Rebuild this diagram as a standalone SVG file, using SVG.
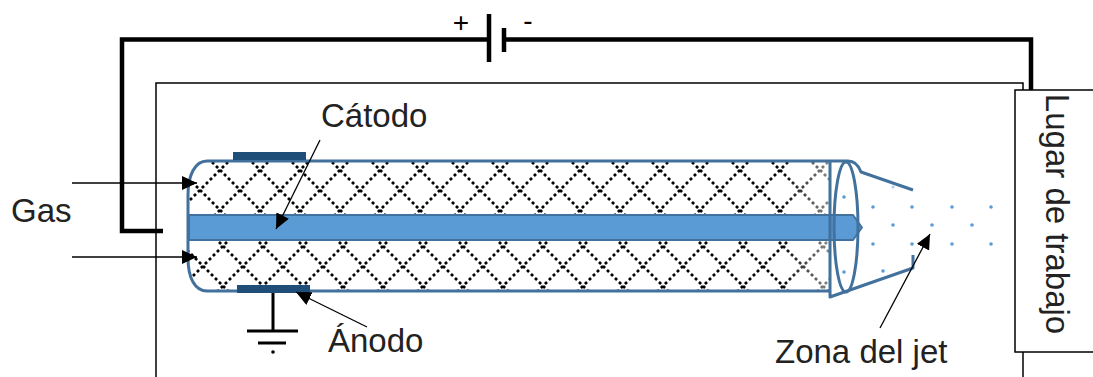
<svg xmlns="http://www.w3.org/2000/svg" width="1093" height="377" viewBox="0 0 1093 377">
  <style>
    .txt { font-family: "Liberation Sans", Arial, sans-serif; font-size: 33px; fill: #222; }
    .sign { font-family: "Liberation Sans", Arial, sans-serif; font-size: 28px; fill: #000; text-anchor: middle; }
    .wire { fill: none; stroke: #000; stroke-width: 4.5; stroke-linejoin: miter; stroke-linecap: butt; }
    .thin { fill: none; stroke: #000; stroke-width: 1.5; }
    .ptr { fill: none; stroke: #000; stroke-width: 1.3; marker-end: url(#head); }
    .shell { fill: none; stroke: #41719C; stroke-width: 3; stroke-linejoin: round; }
    .elec { fill: #1F4E79; }
    .jet { fill: #5B9BD5; }
    .gnd { fill: none; stroke: #000; stroke-width: 3; }
  </style>
  <defs>
    <marker id="head" markerUnits="userSpaceOnUse" markerWidth="15" markerHeight="14" refX="15" refY="7" orient="auto">
      <path d="M0 0 L15 7 L0 14 Z" fill="#000"/>
    </marker>
    <!-- diamond mesh, dotted diagonals through every 40px lattice point -->
    <g id="meshLines" fill="none" stroke="#000" stroke-width="2.7" stroke-dasharray="2.9 2.757">
      <path d="M-40 -40 L80 80 M0 -40 L80 40 M-40 0 L40 80 M80 -40 L-40 80 M40 -40 L-40 40 M80 0 L0 80"/>
    </g>
    <pattern id="meshUpper" width="40" height="40" patternUnits="userSpaceOnUse" patternTransform="translate(200,190)">
      <use href="#meshLines"/>
    </pattern>
    <pattern id="meshLower" width="40" height="40" patternUnits="userSpaceOnUse" patternTransform="translate(203,266)">
      <use href="#meshLines"/>
    </pattern>
    <clipPath id="tubeInside">
      <path d="M207 161 C195 161 188 175 188 195 L188 258 C188 278 195 290 207 290 L830 290 L830 161 Z"/>
    </clipPath>
    <linearGradient id="meshFade" x1="780" y1="0" x2="830" y2="0" gradientUnits="userSpaceOnUse">
      <stop offset="0" stop-color="#fff" stop-opacity="0"/>
      <stop offset="1" stop-color="#fff" stop-opacity="0.55"/>
    </linearGradient>
  </defs>

  <!-- enclosure outline -->
  <g id="enclosure">
    <path class="thin" d="M156 377 V83 H1023 V90"/>
    <path class="thin" d="M1023 352 V377"/>
  </g>

  <!-- power supply -->
  <g id="battery">
    <line x1="489" y1="14" x2="489" y2="62" stroke="#000" stroke-width="4.5"/>
    <line x1="504" y1="28" x2="504" y2="52" stroke="#000" stroke-width="4.5"/>
    <text class="sign" x="461" y="32">+</text>
    <text class="sign" x="528" y="30">-</text>
  </g>

  <!-- plasma torch -->
  <g id="torch">
    <g clip-path="url(#tubeInside)">
      <rect x="188" y="161" width="642" height="54" fill="url(#meshUpper)"/>
      <rect x="188" y="240" width="642" height="50" fill="url(#meshLower)"/>
      <rect x="780" y="161" width="50" height="130" fill="url(#meshFade)"/>
    </g>
    <!-- central electrode -->
    <path d="M189 215 H853 L862 227.5 L853 240 H189 Z" fill="#5B9BD5" stroke="#41719C" stroke-width="1.8"/>
    <!-- shell -->
    <path class="shell" d="M830 161 H207 C195 161 188 175 188 195 L188 258 C188 278 195 291 207 291 H830"/>
    <path class="shell" d="M830 161 V297 L913 268 V255"/>
    <path class="shell" d="M830 161 H848 Q857 161 861 172 L913 190"/>
    <ellipse class="shell" cx="846" cy="227" rx="12" ry="65"/>
    <!-- ring electrodes -->
    <rect class="elec" x="233" y="152" width="73" height="8"/>
    <rect class="elec" x="237" y="285" width="73" height="8"/>
  </g>

  <!-- plasma jet -->
  <g id="jet">
    <circle class="jet" cx="844" cy="197" r="1.8"/>
    <circle class="jet" cx="893" cy="187" r="1.6" opacity="0.5"/>
    <circle class="jet" cx="873" cy="207" r="1.8"/>
    <circle class="jet" cx="912" cy="207" r="1.8"/>
    <circle class="jet" cx="952" cy="207" r="1.8"/>
    <circle class="jet" cx="991" cy="207" r="1.8"/>
    <circle class="jet" cx="893" cy="225" r="1.8"/>
    <circle class="jet" cx="932" cy="225" r="1.8"/>
    <circle class="jet" cx="972" cy="225" r="1.8"/>
    <circle class="jet" cx="873" cy="244" r="1.8"/>
    <circle class="jet" cx="912" cy="244" r="1.8"/>
    <circle class="jet" cx="952" cy="244" r="1.8"/>
    <circle class="jet" cx="991" cy="244" r="1.8"/>
    <circle class="jet" cx="844" cy="272" r="1.8"/>
    <circle class="jet" cx="883" cy="271" r="1.8"/>
  </g>

  <!-- ground -->
  <g id="ground">
    <line class="gnd" x1="273" y1="293" x2="273" y2="331"/>
    <line class="gnd" x1="247" y1="331" x2="298" y2="331"/>
    <line class="gnd" x1="258" y1="343" x2="286" y2="343"/>
    <circle cx="273" cy="352" r="1.8" fill="#000"/>
  </g>

  <!-- work piece -->
  <g id="workpiece">
    <rect x="1015" y="90" width="90" height="262" fill="#fff" stroke="#000" stroke-width="1.5"/>
    <text class="txt" text-anchor="middle" transform="translate(1046,214) rotate(90)">Lugar de trabajo</text>
  </g>

  <!-- labels -->
  <g id="labels">
    <text class="txt" x="11" y="222">Gas</text>
    <text class="txt" x="321" y="127">Cátodo</text>
    <text class="txt" x="328" y="352">Ánodo</text>
    <text class="txt" x="775" y="363">Zona del jet</text>
  </g>

  <!-- wiring and pointers -->
  <g id="connectors">
    <path class="wire" d="M163 231 H122 V39.5 H489"/>
    <path class="wire" d="M504 39.5 H1031 V90"/>
    <line class="ptr" x1="72" y1="183" x2="197" y2="183"/>
    <line class="ptr" x1="72" y1="257" x2="197" y2="257"/>
    <line class="ptr" x1="320" y1="140" x2="276" y2="229"/>
    <line class="ptr" x1="367" y1="327" x2="296" y2="292"/>
    <line class="ptr" x1="880" y1="328" x2="930" y2="234"/>
  </g>
</svg>
